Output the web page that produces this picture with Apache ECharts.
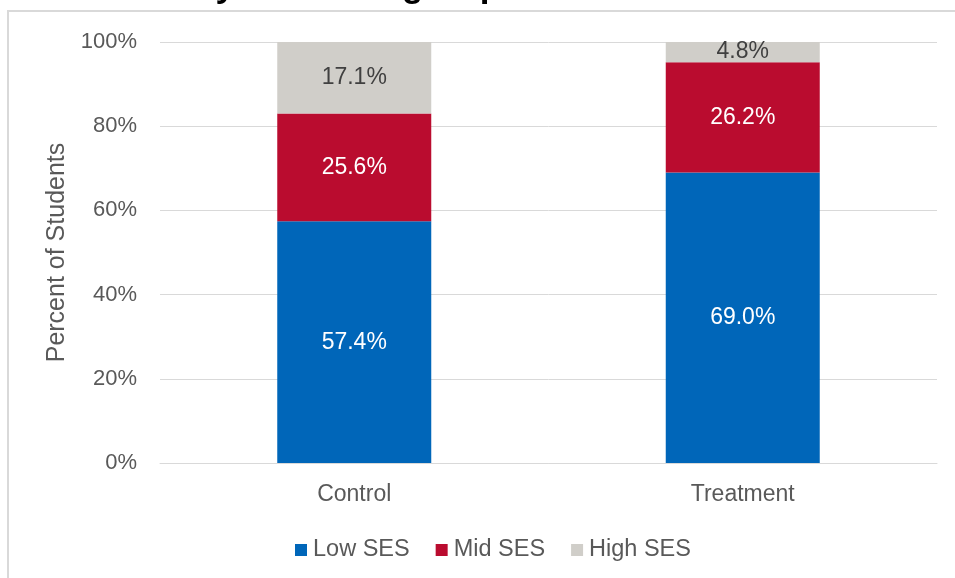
<!DOCTYPE html>
<html>
<head>
<meta charset="utf-8">
<script src="https://cdn.jsdelivr.net/npm/echarts@6/dist/echarts.min.js"></script>
<style>
html,body{margin:0;padding:0;background:#fff;}
#chart{width:955px;height:578px;}
</style>
</head>
<body>
<div id="chart"></div>
<script>
const categories = ['Control', 'Treatment'];
const seriesNames = ['Low SES', 'Mid SES', 'High SES'];
const lowSES = [57.4, 69.0];
const midSES = [25.6, 26.2];
const highSES = [17.1, 4.8];
const titleText = 'Diversity: SES Subgroups';
const axisName = 'Percent of Students';

const FONT = '"Liberation Sans", Arial, sans-serif';
const chart = echarts.init(document.getElementById('chart'), null, {renderer: 'canvas'});

function barSeries(name, data, color, labelColor) {
  return {
    name: name,
    type: 'bar',
    stack: 'total',
    barWidth: 154,
    data: data,
    itemStyle: {color: color},
    label: {
      show: true,
      position: 'inside',
      color: labelColor,
      fontFamily: FONT,
      fontSize: 23,
      formatter: p => p.value.toFixed(1) + '%'
    },
    emphasis: {disabled: true}
  };
}

chart.setOption({
  animation: false,
  backgroundColor: '#ffffff',
  textStyle: {fontFamily: FONT},
  graphic: [
    {
      type: 'rect', silent: true, z: 0,
      shape: {x: 8, y: 11, width: 1000, height: 1000},
      style: {fill: 'none', stroke: '#d9d9d9', lineWidth: 2}
    },
    {
      type: 'text', silent: true, z: 10,
      x: 87, y: 5,
      style: {
        text: titleText,
        fill: '#000000',
        font: 'bold 35px ' + FONT,
        verticalAlign: 'bottom'
      }
    }
  ],
  grid: {left: 160, right: 18, top: 42, bottom: 115, containLabel: false},
  legend: {
    data: seriesNames,
    left: 290,
    top: 533,
    icon: 'rect',
    itemWidth: 12,
    itemHeight: 12,
    itemGap: 26,
    textStyle: {fontFamily: FONT, fontSize: 23.5, color: '#595959', padding: [0, 0, 0, 1]}
  },
  xAxis: {
    type: 'category',
    data: categories,
    axisTick: {show: false},
    axisLine: {lineStyle: {color: '#d9d9d9', width: 1}},
    axisLabel: {fontFamily: FONT, fontSize: 23, color: '#595959', margin: 20}
  },
  yAxis: {
    type: 'value',
    min: 0, max: 100, interval: 20,
    name: axisName,
    nameLocation: 'middle',
    nameGap: 84,
    nameTextStyle: {fontFamily: FONT, fontSize: 25, color: '#595959'},
    axisLine: {show: false},
    axisTick: {show: false},
    axisLabel: {fontFamily: FONT, fontSize: 22, color: '#595959', margin: 23, formatter: '{value}%'},
    splitLine: {lineStyle: {color: '#d9d9d9', width: 1}}
  },
  series: [
    barSeries(seriesNames[0], lowSES, '#0066b9', '#ffffff'),
    barSeries(seriesNames[1], midSES, '#ba0c2f', '#ffffff'),
    barSeries(seriesNames[2], highSES, '#d0cec9', '#404040')
  ]
});
</script>
</body>
</html>
